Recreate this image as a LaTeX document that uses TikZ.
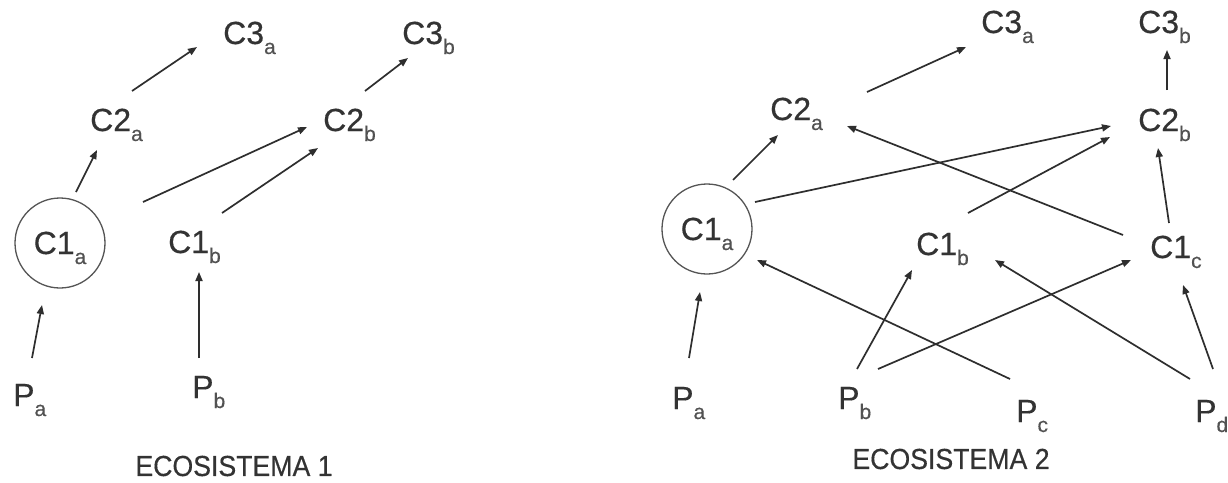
\documentclass[tikz,border=0pt]{standalone}
\usepackage{fontspec}
\setmainfont{Liberation Sans}[FakeBold=0.4]
\usetikzlibrary{arrows.meta,calc}
\definecolor{txt}{HTML}{333333}
\definecolor{ln}{HTML}{2E2E2E}
\definecolor{circc}{HTML}{555555}
\newcommand{\subs}[1]{\raisebox{-10pt}{\fontsize{21}{21}\selectfont\color{txt!85}#1}}
\begin{document}
\begin{tikzpicture}[x=1pt,y=-1pt,
  lab/.style={anchor=base west, inner sep=0pt, text=txt, font=\fontsize{32}{32}\selectfont},
  circ/.style={circle, draw=circc, line width=1.3pt, minimum size=90pt, inner sep=0pt, text=txt,
     font=\fontsize{32}{32}\selectfont, text height=23pt, text depth=1pt},
  arr/.style={draw=ln, line width=1.7pt, -{Triangle[length=9pt,width=7pt]}},
  ttl/.style={text=txt, font=\fontsize{29}{29}\selectfont, inner sep=0pt}]
\fill[white] (0,0) rectangle (1228,482);
\useasboundingbox (0,0) rectangle (1228,482);

% ---------- Ecosistema 1 ----------
\node[lab] (lC3a) at (223,44) {C3\subs{a}};
\node[lab] (lC3b) at (402,44) {C3\subs{b}};
\node[lab] (lC2a) at (90,131) {C2\subs{a}};
\node[lab] (lC2b) at (323,131) {C2\subs{b}};
\node[circ] (lC1a) at (60,243) {C1\subs{a}};
\node[lab] (lC1b) at (168,253) {C1\subs{b}};
\node[lab] (lPa) at (13,406) {P\subs{a}};
\node[lab] (lPb) at (192,398) {P\subs{b}};
\node[ttl] (t1) at (234,466) {\scalebox{0.92}[1]{ECOSISTEMA 1}};

\draw[arr] ($(lPa.base west)+(19,-48)$) -- ($(lC1a)+(-18,62)$);
\draw[arr] ($(lPb.base west)+(7,-40)$) -- ($(lC1b.base west)+(31,19)$);
\draw[arr] ($(lC1a)+(16,-51)$) -- ($(lC2a.base west)+(7,19)$);
\draw[arr] ($(lC1a)+(83,-41)$) -- ($(lC2b.base west)+(-16,-4)$);
\draw[arr] ($(lC1b.base west)+(54,-40)$) -- ($(lC2b.base west)+(-5,17)$);
\draw[arr] ($(lC2a.base west)+(42,-40)$) -- ($(lC3a.base west)+(-26,3)$);
\draw[arr] ($(lC2b.base west)+(42,-40)$) -- ($(lC3b.base west)+(6,14)$);

% ---------- Ecosistema 2 ----------
\node[lab] (rC3a) at (981,33) {C3\subs{a}};
\node[lab] (rC3b) at (1138,33) {C3\subs{b}};
\node[lab] (rC2a) at (770,120) {C2\subs{a}};
\node[lab] (rC2b) at (1138,131) {C2\subs{b}};
\node[circ] (rC1a) at (707,229) {C1\subs{a}};
\node[lab] (rC1b) at (916,255) {C1\subs{b}};
\node[lab] (rC1c) at (1150,258) {C1\subs{c}};
\node[lab] (rPa) at (672,409) {P\subs{a}};
\node[lab] (rPb) at (838,409) {P\subs{b}};
\node[lab] (rPc) at (1016,422) {P\subs{c}};
\node[lab] (rPd) at (1195,422) {P\subs{d}};
\node[ttl] (t2) at (951,459) {\scalebox{0.92}[1]{ECOSISTEMA 2}};

\draw[arr] ($(rC1a)+(26,-49)$) -- ($(rC2a.base west)+(8,15)$);
\draw[arr] ($(rC1a)+(48,-27)$) -- ($(rC2b.base west)+(-27,-5)$);
\draw[arr] ($(rC1c.base west)+(-27,-23)$) -- ($(rC2a.base west)+(77,6)$);
\draw[arr] ($(rC2a.base west)+(97,-28)$) -- ($(rC3a.base west)+(-15,14)$);
\draw[arr] ($(rC2b.base west)+(29,-41)$) -- ($(rC3b.base west)+(29,17)$);
\draw[arr] ($(rC1c.base west)+(19,-35)$) -- ($(rC2b.base west)+(20,17)$);
\draw[arr] ($(rC1b.base west)+(52,-42)$) -- ($(rC2b.base west)+(-28,6)$);
\draw[arr] ($(rPa.base west)+(17,-51)$) -- ($(rC1a)+(-7,63)$);
\draw[arr] ($(rPb.base west)+(19,-40)$) -- ($(rC1b.base west)+(-4,15)$);
\draw[arr] ($(rPc.base west)+(-6,-43)$) -- ($(rC1a)+(50,31)$);
\draw[arr] ($(rPb.base west)+(40,-40)$) -- ($(rC1c.base west)+(-19,2)$);
\draw[arr] ($(rPd.base west)+(18,-53)$) -- ($(rC1c.base west)+(33,27)$);
\draw[arr] ($(rPd.base west)+(-5,-43)$) -- ($(rC1b.base west)+(79,5)$);
\end{tikzpicture}
\end{document}
